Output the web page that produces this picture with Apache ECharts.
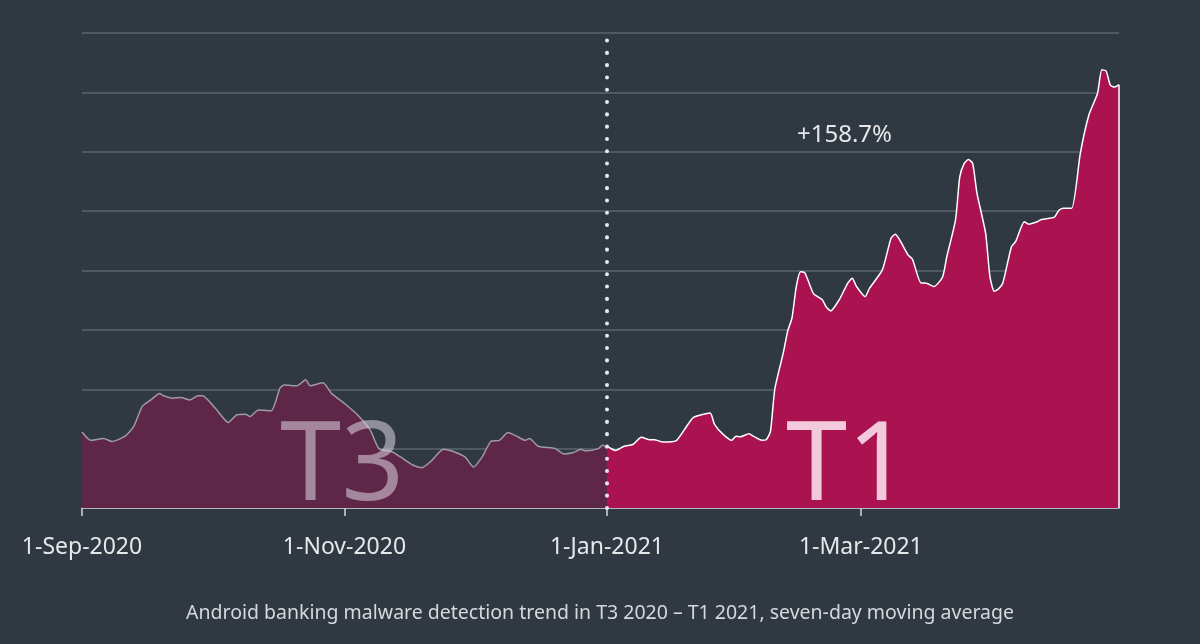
<!DOCTYPE html>
<html>
<head>
    <meta charset="UTF-8">
    <title>Android banking malware detection trend</title>
    <script src="https://cdn.jsdelivr.net/npm/echarts@6/dist/echarts.min.js"></script>
</head>
<body style="margin: 0; overflow: hidden; background: #303841;">
<div id="chart" style="width: 1200px; height: 644px;"></div>
<script type="text/javascript">
    // T3 2020 (Sep - Dec), seven-day moving average, relative units
    var t3Dates = ['2020-09-01', '2020-09-03', '2020-09-06', '2020-09-08', '2020-09-11', '2020-09-13', '2020-09-15',
        '2020-09-17', '2020-09-19', '2020-09-20', '2020-09-22', '2020-09-24', '2020-09-26', '2020-09-28', '2020-09-29',
        '2020-10-02', '2020-10-05', '2020-10-07', '2020-10-09', '2020-10-10', '2020-10-12', '2020-10-15', '2020-10-17',
        '2020-10-18', '2020-10-21', '2020-10-23', '2020-10-24', '2020-10-27', '2020-10-29', '2020-11-01', '2020-11-04',
        '2020-11-07', '2020-11-09', '2020-11-12', '2020-11-14', '2020-11-17', '2020-11-19', '2020-11-21', '2020-11-24',
        '2020-11-26', '2020-11-29', '2020-12-01', '2020-12-03', '2020-12-05', '2020-12-07', '2020-12-09', '2020-12-11',
        '2020-12-13', '2020-12-14', '2020-12-16', '2020-12-20', '2020-12-22', '2020-12-24', '2020-12-26', '2020-12-27',
        '2020-12-30', '2020-12-31', '2021-01-01'];
    var t3Values = [1.28, 1.14, 1.17, 1.12, 1.21, 1.37, 1.71,
        1.82, 1.93, 1.89, 1.85, 1.86, 1.82, 1.89, 1.89,
        1.68, 1.44, 1.57, 1.58, 1.54, 1.65, 1.64, 2.02,
        2.07, 2.06, 2.16, 2.06, 2.11, 1.93, 1.76, 1.57,
        1.31, 1.00, 0.95, 0.86, 0.72, 0.68, 0.78, 0.99,
        0.96, 0.86, 0.69, 0.86, 1.12, 1.14, 1.27, 1.21,
        1.14, 1.17, 1.04, 1.00, 0.91, 0.93, 0.99, 0.96,
        1.00, 1.06, 1.00];

    // T1 2021 (Jan - Apr)
    var t1Dates = ['2021-01-01', '2021-01-03', '2021-01-05', '2021-01-07', '2021-01-09', '2021-01-11', '2021-01-12',
        '2021-01-14', '2021-01-17', '2021-01-19', '2021-01-21', '2021-01-23', '2021-01-25', '2021-01-26', '2021-01-28',
        '2021-01-30', '2021-01-31', '2021-02-01', '2021-02-03', '2021-02-04', '2021-02-06', '2021-02-07', '2021-02-08',
        '2021-02-09', '2021-02-11', '2021-02-12', '2021-02-13', '2021-02-14', '2021-02-15', '2021-02-16', '2021-02-18',
        '2021-02-20', '2021-02-21', '2021-02-22', '2021-02-24', '2021-02-26', '2021-02-27', '2021-02-28', '2021-03-02',
        '2021-03-03', '2021-03-06', '2021-03-08', '2021-03-09', '2021-03-10', '2021-03-12', '2021-03-13', '2021-03-15',
        '2021-03-16', '2021-03-18', '2021-03-20', '2021-03-21', '2021-03-23', '2021-03-24', '2021-03-25', '2021-03-26',
        '2021-03-27', '2021-03-28', '2021-03-30', '2021-03-31', '2021-04-01', '2021-04-02', '2021-04-03', '2021-04-05',
        '2021-04-06', '2021-04-08', '2021-04-09', '2021-04-11', '2021-04-12', '2021-04-15', '2021-04-16', '2021-04-17',
        '2021-04-19', '2021-04-21', '2021-04-23', '2021-04-25', '2021-04-26', '2021-04-27', '2021-04-28', '2021-04-29',
        '2021-04-30'];
    var t1Values = [1.04, 0.97, 1.04, 1.07, 1.19, 1.15, 1.15,
        1.11, 1.13, 1.32, 1.52, 1.57, 1.60, 1.41, 1.24,
        1.14, 1.21, 1.20, 1.25, 1.21, 1.14, 1.15, 1.29,
        2.00, 2.62, 2.98, 3.20, 3.73, 3.98, 3.96, 3.61,
        3.51, 3.38, 3.32, 3.51, 3.79, 3.87, 3.73, 3.56,
        3.70, 4.01, 4.54, 4.61, 4.52, 4.26, 4.19, 3.79,
        3.79, 3.73, 3.89, 4.24, 4.85, 5.58, 5.80, 5.87,
        5.80, 5.30, 4.63, 3.90, 3.65, 3.69, 3.79, 4.40,
        4.49, 4.82, 4.78, 4.82, 4.86, 4.90, 5.01, 5.05,
        5.05, 5.97, 6.62, 6.98, 7.38, 7.36, 7.12, 7.09,
        7.13];

    var tickDates = ['2020-09-01', '2020-11-01', '2021-01-01', '2021-03-01'];
    var splitDate = '2021-01-01';
    var changeLabel = '+158.7%';
    var caption = 'Android banking malware detection trend in T3 2020 \u2013 T1 2021, seven-day moving average';

    var months = ['Jan', 'Feb', 'Mar', 'Apr', 'May', 'Jun', 'Jul', 'Aug', 'Sep', 'Oct', 'Nov', 'Dec'];
    function ts(s) {
        return new Date(s + 'T00:00:00Z').getTime();
    }
    function pairs(dates, values) {
        var out = [];
        for (var i = 0; i < dates.length; i++) {
            out.push([ts(dates[i]), values[i]]);
        }
        return out;
    }
    var t3Data = pairs(t3Dates, t3Values);
    var t1Data = pairs(t1Dates, t1Values);
    var lastT1 = t1Data[t1Data.length - 1];

    var font = '"Noto Sans", sans-serif';
    var chart = echarts.init(document.getElementById('chart'));
    var option = {
        backgroundColor: '#303841',
        animation: false,
        grid: {left: 82, right: 81, top: 33, bottom: 136},
        xAxis: {
            type: 'value',
            min: ts(t3Dates[0]),
            max: lastT1[0],
            splitLine: {show: false},
            axisLine: {show: true, lineStyle: {color: '#d4d6da', width: 1.5}},
            axisTick: {
                show: true, length: 8,
                customValues: tickDates.map(ts),
                lineStyle: {color: '#d4d6da', width: 1.5}
            },
            axisLabel: {
                customValues: tickDates.map(ts),
                margin: 28,
                color: '#e6e7e9',
                fontSize: 23,
                fontFamily: font,
                formatter: function (v) {
                    var d = new Date(v);
                    return d.getUTCDate() + '-' + months[d.getUTCMonth()] + '-' + d.getUTCFullYear();
                }
            }
        },
        yAxis: {
            type: 'value',
            min: 0,
            max: 8,
            interval: 1,
            axisLine: {show: false},
            axisTick: {show: false},
            axisLabel: {show: false},
            splitLine: {lineStyle: {color: '#5b636d', width: 1.5}}
        },
        series: [
            {
                name: 'T3',
                type: 'line',
                data: t3Data,
                symbol: 'none',
                smooth: 0.2,
                z: 2,
                lineStyle: {color: '#9d9aa3', width: 1.5},
                areaStyle: {color: '#5f2747', opacity: 1}
            },
            {
                name: 'T1',
                type: 'line',
                data: t1Data,
                symbol: 'none',
                smooth: 0.2,
                z: 3,
                lineStyle: {color: '#ffffff', width: 1.5},
                areaStyle: {color: '#aa1350', opacity: 1},
                markLine: {
                    silent: true,
                    symbol: 'none',
                    label: {show: false},
                    data: [
                        [{coord: [lastT1[0], 0]}, {coord: [lastT1[0], lastT1[1]]}]
                    ],
                    lineStyle: {color: '#ffffff', width: 1.5, type: 'solid'}
                }
            },
            {
                name: 'split',
                type: 'line',
                data: [],
                z: 5,
                markLine: {
                    silent: true,
                    symbol: 'none',
                    label: {show: false},
                    data: [{xAxis: ts(splitDate)}],
                    lineStyle: {color: '#e8e8ec', width: 4, type: [0.1, 12.2], cap: 'round'}
                }
            }
        ],
        graphic: [
            {
                type: 'text', left: 280, top: 414, z: 10,
                style: {text: 'T3', font: '400 110px ' + font, fill: 'rgba(220,215,225,0.55)'}
            },
            {
                type: 'text', left: 786, top: 414, z: 10,
                style: {text: 'T1', font: '400 110px ' + font, fill: 'rgba(255,235,245,0.85)'}
            },
            {
                type: 'text', left: 797, top: 123, z: 10,
                style: {text: changeLabel, font: '24px ' + font, fill: '#e6e7e9'}
            },
            {
                type: 'text', left: 'center', top: 603, z: 10,
                style: {text: caption, font: '19.5px ' + font, fill: '#d6d8dc'}
            }
        ]
    };
    chart.setOption(option);
</script>
</body>
</html>
